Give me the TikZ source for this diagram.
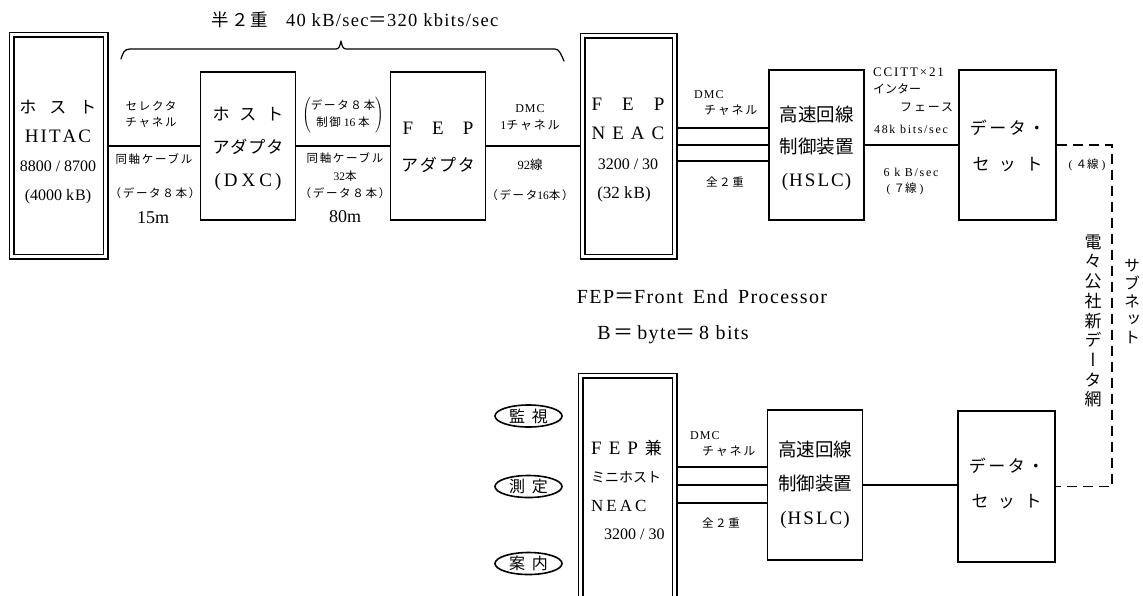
\documentclass[tikz,border=0pt]{standalone}
\usepackage{fontspec}
\setmainfont{Liberation Serif}
\newfontfamily\jp{Noto Sans CJK JP}
\newfontfamily\jw{Noto Sans CJK JP}[LetterSpace=15]
\newfontfamily\jpv{Noto Sans CJK JP}[RawFeature=+vert]
\newfontfamily\lw{Liberation Serif}[LetterSpace=14]
\newfontfamily\lm{Liberation Serif}[LetterSpace=7]
\usetikzlibrary{calc,shapes.geometric}
\newcommand\J[1]{{\jp #1}}
\newcommand\W[1]{{\jw #1}}
\newcommand\T[2]{{\fontsize{#1}{#1}\selectfont #2}}
\newcommand\TJ[2]{{\jp\fontsize{#1}{#1}\selectfont #2}}
\begin{document}
\begin{tikzpicture}[x=1pt,y=-1pt,
  box/.style={draw,line width=1.8pt,inner sep=0pt,minimum width=95pt,minimum height=148pt},
  dbox/.style={draw,line width=1.3pt,double,double distance=3.4pt,inner sep=0pt,outer sep=3pt},
  conn/.style={line width=1.2pt},
  dashline/.style={line width=1.3pt,dash pattern=on 10pt off 6pt},
  oval/.style={draw,ellipse,line width=1.6pt,inner sep=0pt,minimum width=67pt,minimum height=22pt,font=\jp\fontsize{16}{16}\selectfont},
  txt/.style={inner sep=0pt,align=center},
  lab/.style={inner sep=0pt,align=center,font=\fontsize{11.5}{16}\selectfont},
  bracepath/.style={line width=1.2pt,line cap=round,line join=round}
]
\useasboundingbox (0,0) rectangle (1143,595);

% ---------- boxes ----------
\node[dbox,minimum width=94pt,minimum height=222pt] (host) at (58.5,145.5) {};
\node[box] (dxc) at (248,146) {};
\node[box] (fepad) at (438,146) {};
\node[dbox,minimum width=92pt,minimum height=221pt] (neac) at (628.5,146) {};
\node[box,minimum height=150pt] (hslc) at (816.5,145) {};
\node[box,minimum width=97pt,minimum height=150pt] (ds) at (1007.5,145) {};
\begin{scope}
  \clip (0,0) rectangle (1143,595);
  \node[dbox,minimum width=94pt,minimum height=250pt] (neac2) at (627.5,500.5) {};
\end{scope}
\node[box,minimum height=150pt] (hslc2) at (815,485) {};
\node[box,minimum width=97pt,minimum height=151pt] (ds2) at (1006.5,486.5) {};

\node[oval] (kanshi) at (528.5,416) {監\hspace{7pt}視};
\node[oval] (sokutei) at (528.5,486.5) {測\hspace{7pt}定};
\node[oval] (annai) at (528.5,563.5) {案\hspace{7pt}内};

% ---------- box texts ----------
\node[txt,font=\fontsize{17}{29}\selectfont] (hostT) at (58,152) {\TJ{17}{ホ\hspace{13pt}ス\hspace{13pt}ト}\\\T{19}{H\kern2pt I\kern2pt T\kern2pt A\kern2pt C}\\\T{16}{8800 / 8700}\\\T{16}{(4000 k\kern1pt B)}};
\node[txt,font=\fontsize{17}{33}\selectfont] (dxcT) at (248,149) {\TJ{17}{ホ\hspace{10pt}ス\hspace{10pt}ト}\\\TJ{17}{ア\kern1pt ダ\kern1pt プ\kern1pt タ}\\\T{19}{(\kern3pt D\kern4pt X\kern4pt C\kern3pt)}};
\node[txt,font=\fontsize{17}{37}\selectfont] (fepadT) at (438,147) {\T{19}{F\hspace{19pt}E\hspace{19pt}P}\\\TJ{17}{ア\kern2pt ダ\kern2pt プ\kern2pt タ}};
\node[txt,font=\fontsize{17}{29.3}\selectfont] (neacT) at (628,150) {\T{19}{F\hspace{20pt}E\hspace{20pt}P}\\\T{19}{N\kern7pt E\kern7pt A\kern7pt C}\\\T{16}{3200 / 30}\hspace*{14pt}\\\T{17}{(32 k\kern1pt B)}\hspace*{8pt}};
\node[txt,font=\fontsize{18}{32.5}\selectfont] (hslcT) at (816.5,148) {\TJ{18.5}{高速回線}\\\TJ{18.5}{制御装置}\\\T{19}{(\kern1pt H\kern2pt S\kern2pt L\kern2pt C\kern1pt)}};
\node[txt,font=\fontsize{17}{36}\selectfont] (dsT) at (1007.5,145.5) {\TJ{17}{デ\kern2.5pt ー\kern2.5pt タ\kern2.5pt ・}\\\TJ{17}{セ\hspace{9.5pt}ッ\hspace{9.5pt}ト}};

\node[inner sep=0pt,align=left,anchor=west,font=\fontsize{17}{28.5}\selectfont] (neac2T) at (591,490) {\T{19}{F\hspace{7pt}E\hspace{7pt}P\hspace{7pt}}\TJ{17}{兼}\\\TJ{14}{ミニホスト}\\\T{17}{N\kern3pt E\kern3pt A\kern3pt C}\\\hspace*{13pt}\T{16}{3200 / 30}};
\node[txt,font=\fontsize{18}{34}\selectfont] (hslc2T) at (815,484.5) {\TJ{18.5}{高速回線}\\\TJ{18.5}{制御装置}\\\T{19}{(\kern1pt H\kern2pt S\kern2pt L\kern2pt C\kern1pt)}};
\node[txt,font=\fontsize{17}{35}\selectfont] (ds2T) at (1006.5,483) {\TJ{17}{デ\kern2.5pt ー\kern2.5pt タ\kern2.5pt ・}\\\TJ{17}{セ\hspace{9.5pt}ッ\hspace{9.5pt}ト}};

% ---------- connectors ----------
\draw[conn] (host.east |- dxc.west) -- (dxc.west);
\draw[conn] (dxc.east) -- (fepad.west);
\draw[conn] (fepad.east) -- (neac.west |- fepad.east);
\draw[conn] (neac.east |- hslc.west) -- (hslc.west);
\draw[conn] ($(neac.east |- hslc.west)+(0,-17)$) -- ($(hslc.west)+(0,-17)$);
\draw[conn] ($(neac.east |- hslc.west)+(0,16)$) -- ($(hslc.west)+(0,16)$);
\draw[conn] (hslc.east) -- (ds.west);
\coordinate (dx) at (1112,0);
\draw[dashline] (ds.east) -- (ds.east -| dx) -- (ds2.east -| dx) -- (ds2.east);
\draw[conn] (neac2.east |- hslc2.west) -- (hslc2.west);
\draw[conn] ($(neac2.east |- hslc2.west)+(0,-18)$) -- ($(hslc2.west)+(0,-18)$);
\draw[conn] ($(neac2.east |- hslc2.west)+(0,18)$) -- ($(hslc2.west)+(0,18)$);
\draw[conn] (hslc2.east) -- (ds2.west |- hslc2.east);

% ---------- brace ----------
\draw[bracepath] (121,59) .. controls (123,53) and (124,49) .. (130,49) -- (336,49)
  .. controls (339,49) and (340,46) .. (341,41) .. controls (342,46) and (343,49) .. (346,49)
  -- (555,49) .. controls (559,49) and (561,54) .. (564,61);
\node[inner sep=0pt] (braceT) at (355,20) {\TJ{17.5}{半\kern2pt ２\kern2pt 重}\hspace{18pt}{\lm\fontsize{18.5}{18.5}\selectfont 40 kB/sec\J{＝}320 kbits/sec}};

% ---------- labels ----------
\node[lab] (l1) at (151,114) {\W{セレクタ}\\\W{チャネル}};
\node[lab] (l2) at (154,159) {\W{同軸ケーブル}};
\node[lab] (l3) at (155,193) {\W{（データ８本）}};
\node[inner sep=0pt] (l4) at (153,218) {\T{18}{15m}};
\node[lab,font=\fontsize{11.5}{17}\selectfont] (l5) at (343,115) {$\left(\begin{tabular}{@{}c@{}}\W{データ８本}\\\W{制御} 16 \W{本}\end{tabular}\right)$};
\node[lab,font=\fontsize{11.5}{17.5}\selectfont] (l6) at (345,176) {\W{同軸ケーブル}\\32\W{本}\\\W{（データ８本）}};
\node[inner sep=0pt] (l7) at (345,217) {\T{18}{80m}};
\node[lab,font=\fontsize{12}{17}\selectfont] (l8) at (530,118) {{\lw D\kern1pt M\kern1pt C}\\1\W{チャネル}};
\node[lab,font=\fontsize{12.5}{16}\selectfont] (l9) at (530,165) {92\W{線}};
\node[lab] (l10) at (530,195) {\W{（データ}16\W{本）}};
\node[lab,align=left,anchor=west,font=\fontsize{12}{16}\selectfont] (l11) at (694,103) {{\lw D\kern1pt M\kern1pt C}\\\hspace*{10pt}\W{チャネル}};
\node[lab] (l12) at (725,182) {\W{全２重}};
\node[lab,align=left,anchor=west,font=\fontsize{12}{17.5}\selectfont] (l13) at (873,89.5) {{\lw\fontsize{13}{13}\selectfont CCITT×21}\\\J{インター}\\\hspace*{27pt}\W{フェース}};
\node[lab,font=\fontsize{12}{16}\selectfont] (l14) at (911,129) {{\lw 48k bits/sec}};
\node[lab,font=\fontsize{12}{16}\selectfont] (l15) at (911,172) {{\lw 6 k B/sec}};
\node[lab] (l16) at (905,189) {(\kern3pt\J{７線}\kern3pt)};
\node[lab] (l17) at (1087,165) {(\kern3pt\J{４線}\kern3pt)};
\node[txt,font=\jpv\fontsize{17}{19.7}\selectfont] (vt1) at (1093,321) {電\\々\\公\\社\\新\\デ\\ー\\タ\\網};
\node[txt,font=\jpv\fontsize{16}{18}\selectfont] (vt2) at (1132,302) {サ\\ブ\\ネ\\ッ\\ト};
\node[inner sep=0pt,font=\lm\fontsize{20}{20}\selectfont] (fepdef) at (702,297) {FEP\J{＝}Front\hspace{10pt}End\hspace{10pt}Processor};
\node[inner sep=0pt,font=\lm\fontsize{20}{20}\selectfont] (bdef) at (673,335) {B\,\J{＝}\,byte\J{＝}\,8 bits};
\node[lab,align=left,anchor=west,font=\fontsize{12}{16}\selectfont] (l18) at (690,444) {{\lw D\kern1pt M\kern1pt C}\\\hspace*{12pt}\W{チャネル}};
\node[lab] (l19) at (721,523) {\W{全２重}};
\end{tikzpicture}
\end{document}
